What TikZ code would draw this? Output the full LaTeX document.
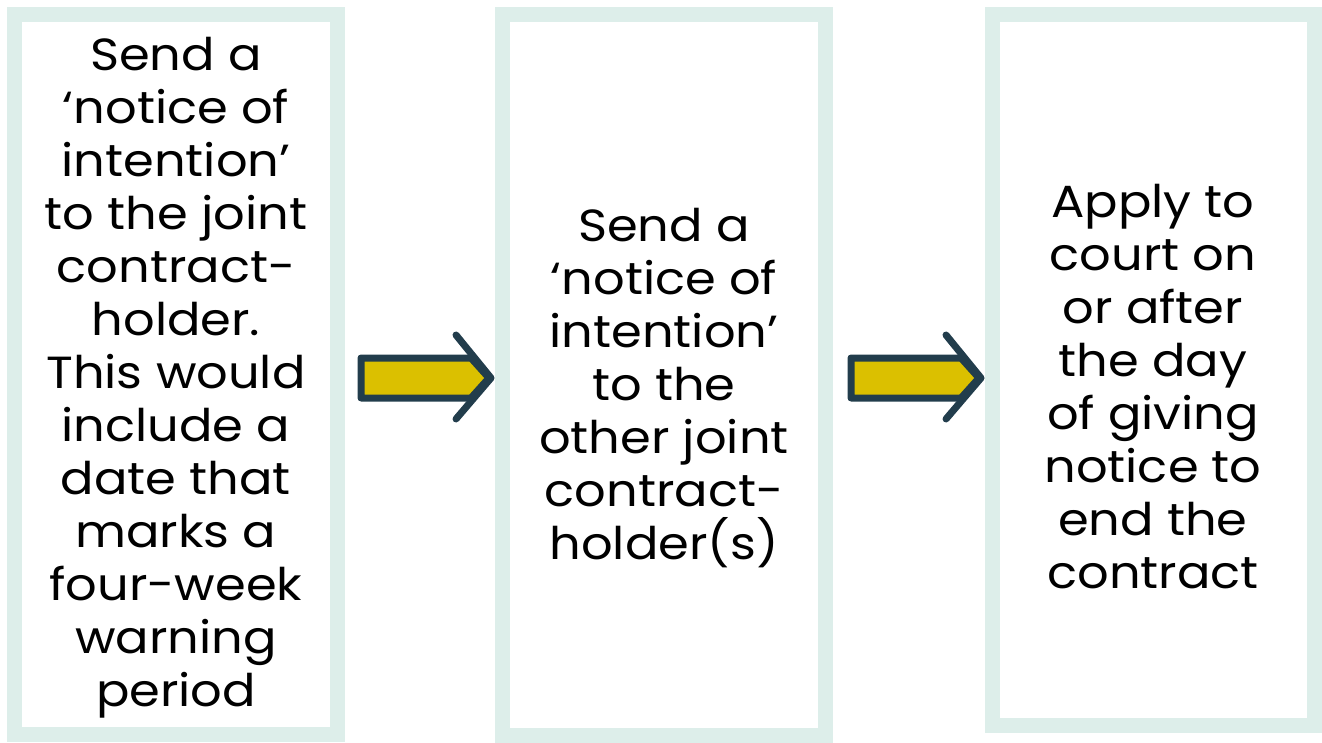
\documentclass[tikz,border=0pt]{standalone}
\usepackage{fontspec}
\setmainfont{Poppins}[FakeStretch=1.1]
\definecolor{frame}{HTML}{DDEEEA}
\definecolor{arrowfill}{HTML}{DBC000}
\definecolor{arrowline}{HTML}{223D4C}
\tikzset{
  box/.style={draw=frame, line width=15pt, fill=white, inner sep=0pt},
  txt/.style={align=center, font=\fontsize{45}{53}\selectfont, text=black, inner sep=0pt},
  arrowbody/.style={fill=arrowfill, draw=arrowline, line width=7pt, line join=round},
  chevron/.style={draw=arrowline, line width=7pt, line cap=round, line join=round}
}
\begin{document}
\begin{tikzpicture}[x=1pt,y=-1pt]
\useasboundingbox (0,0) rectangle (1322,743);
\node[box, minimum width=323pt, minimum height=720pt] (b1) at (176,374.5) {};
\node[box, minimum width=323pt, minimum height=721pt] (b2) at (664,375) {};
\node[box, minimum width=322pt, minimum height=711pt] (b3) at (1153.5,370) {};
\node[txt] (t1) at (176,378) {Send a\\‘notice of\\intention’\\to the joint\\contract-\\holder.\\This would\\include a\\date that\\marks a\\four-week\\warning\\period};
\node[txt] (t2) at (664,388) {Send a\\‘notice of\\intention’\\to the\\other joint\\contract-\\holder(s)};
\node[txt] (t3) at (1153,387) {Apply to\\court on\\or after\\the day\\of giving\\notice to\\end the\\contract};
\foreach \dx/\n in {0/a1, 490/a2} {
  \begin{scope}[xshift=\dx pt]
  \draw[arrowbody] (361,358) -- (471,358) -- (489,378) -- (471,398) -- (361,398) -- cycle;
  \draw[chevron] (456,335) -- (491,378) -- (456,419);
  \end{scope}
}
\end{tikzpicture}
\end{document}
